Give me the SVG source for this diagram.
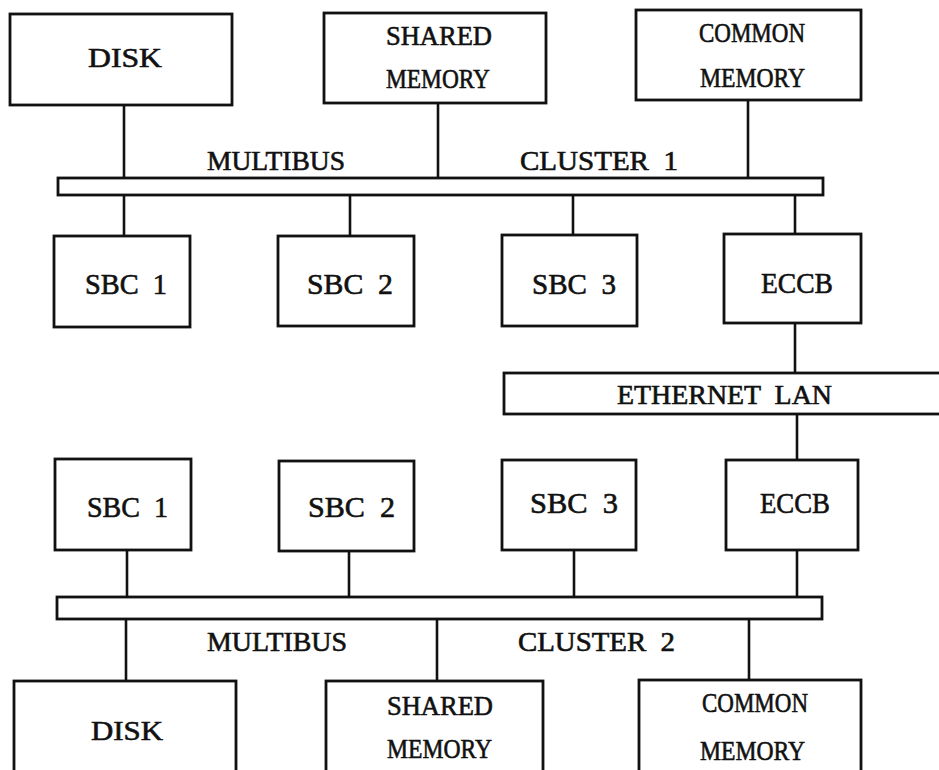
<svg xmlns="http://www.w3.org/2000/svg" width="939" height="770" viewBox="0 0 939 770">
<style>
.b{fill:#fff;stroke:#111;stroke-width:2.8}
.c line{stroke:#111;stroke-width:2.6}
text{font-family:"Liberation Serif","Times New Roman",serif;fill:#111;stroke:#111;stroke-width:0.6;font-size:27px}
.s{font-size:29px}
</style>
<rect width="939" height="770" fill="#fff"/>
<g id="connectors" class="c">
<line x1="124" y1="105" x2="124" y2="178"/>
<line x1="438" y1="103" x2="438" y2="178"/>
<line x1="748" y1="100" x2="748" y2="178"/>
<line x1="124" y1="195" x2="124" y2="236"/>
<line x1="350" y1="195" x2="350" y2="236"/>
<line x1="573" y1="195" x2="573" y2="235"/>
<line x1="795" y1="195" x2="795" y2="234"/>
<line x1="795" y1="323" x2="795" y2="373"/>
<line x1="797" y1="414" x2="797" y2="460"/>
<line x1="127" y1="550" x2="127" y2="597"/>
<line x1="349" y1="551" x2="349" y2="597"/>
<line x1="574" y1="550" x2="574" y2="597"/>
<line x1="797" y1="550" x2="797" y2="597"/>
<line x1="126" y1="619" x2="126" y2="681"/>
<line x1="437" y1="619" x2="437" y2="681"/>
<line x1="749" y1="619" x2="749" y2="680"/>
</g>
<g id="disk1"><rect class="b" x="10" y="14" width="222" height="91"/><text x="88" y="67" textLength="74" lengthAdjust="spacingAndGlyphs" font-size="26">DISK</text></g>
<g id="shared1"><rect class="b" x="324" y="13" width="222" height="90"/><text x="386" y="45" textLength="106" lengthAdjust="spacingAndGlyphs">SHARED</text><text x="386" y="88" textLength="104" lengthAdjust="spacingAndGlyphs">MEMORY</text></g>
<g id="common1"><rect class="b" x="636" y="10" width="225" height="90"/><text x="699" y="42" textLength="106" lengthAdjust="spacingAndGlyphs" font-size="26">COMMON</text><text x="700" y="87" textLength="105" lengthAdjust="spacingAndGlyphs" font-size="28">MEMORY</text></g>
<g id="bus1"><rect class="b" x="58" y="178" width="765" height="17"/><text x="207" y="170" textLength="138" lengthAdjust="spacingAndGlyphs">MULTIBUS</text><text x="520" y="170" textLength="158" lengthAdjust="spacingAndGlyphs" xml:space="preserve">CLUSTER  1</text></g>
<g id="sbc1a"><rect class="b" x="54" y="236" width="136" height="91"/><text class="s" x="85" y="294" textLength="82" lengthAdjust="spacingAndGlyphs" xml:space="preserve">SBC  1</text></g>
<g id="sbc2a"><rect class="b" x="278" y="236" width="136" height="90"/><text class="s" x="307" y="294" textLength="86" lengthAdjust="spacingAndGlyphs" xml:space="preserve">SBC  2</text></g>
<g id="sbc3a"><rect class="b" x="502" y="235" width="135" height="91"/><text class="s" x="532" y="294" textLength="84" lengthAdjust="spacingAndGlyphs" xml:space="preserve">SBC  3</text></g>
<g id="eccb1"><rect class="b" x="724" y="234" width="137" height="89"/><text class="s" x="761" y="293" textLength="72" lengthAdjust="spacingAndGlyphs">ECCB</text></g>
<g id="ethernet"><rect class="b" x="504" y="373" width="445" height="41"/><text x="617" y="404" textLength="215" lengthAdjust="spacingAndGlyphs" font-size="28" xml:space="preserve">ETHERNET  LAN</text></g>
<g id="sbc1b"><rect class="b" x="55" y="459" width="136" height="91"/><text class="s" x="87" y="517" textLength="81" lengthAdjust="spacingAndGlyphs" xml:space="preserve">SBC  1</text></g>
<g id="sbc2b"><rect class="b" x="279" y="461" width="135" height="90"/><text class="s" x="308" y="517" textLength="87" lengthAdjust="spacingAndGlyphs" xml:space="preserve">SBC  2</text></g>
<g id="sbc3b"><rect class="b" x="502" y="460" width="134" height="90"/><text class="s" x="530" y="513" textLength="88" lengthAdjust="spacingAndGlyphs" xml:space="preserve">SBC  3</text></g>
<g id="eccb2"><rect class="b" x="726" y="460" width="132" height="90"/><text class="s" x="760" y="513" textLength="70" lengthAdjust="spacingAndGlyphs">ECCB</text></g>
<g id="bus2"><rect class="b" x="57" y="597" width="765" height="22"/><text x="207" y="651" textLength="140" lengthAdjust="spacingAndGlyphs">MULTIBUS</text><text x="518" y="651" textLength="157" lengthAdjust="spacingAndGlyphs" xml:space="preserve">CLUSTER  2</text></g>
<g id="disk2"><rect class="b" x="14" y="681" width="222" height="100"/><text x="91" y="740" textLength="72" lengthAdjust="spacingAndGlyphs" font-size="26">DISK</text></g>
<g id="shared2"><rect class="b" x="326" y="681" width="217" height="100"/><text x="387" y="715" textLength="106" lengthAdjust="spacingAndGlyphs">SHARED</text><text x="387" y="758" textLength="105" lengthAdjust="spacingAndGlyphs">MEMORY</text></g>
<g id="common2"><rect class="b" x="639" y="680" width="222" height="101"/><text x="702" y="712" textLength="106" lengthAdjust="spacingAndGlyphs" font-size="26">COMMON</text><text x="700" y="760" textLength="105" lengthAdjust="spacingAndGlyphs" font-size="28">MEMORY</text></g>
</svg>
